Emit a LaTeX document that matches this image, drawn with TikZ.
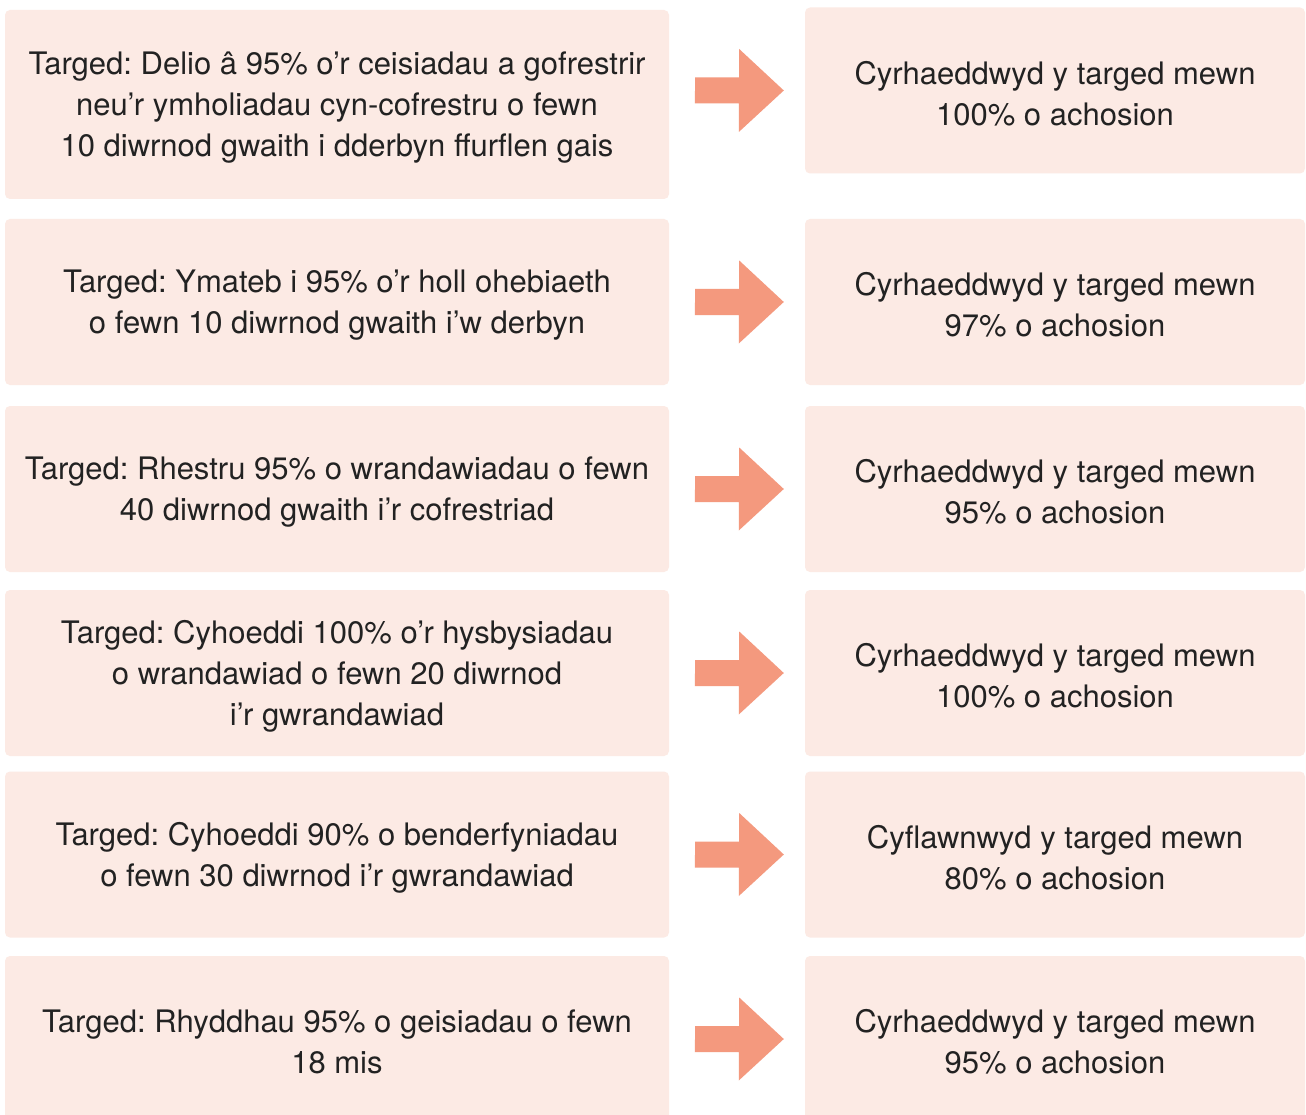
\documentclass[tikz,border=0pt]{standalone}
\usepackage{fontspec}
\setmainfont{TeX Gyre Heros}
\usetikzlibrary{calc}
\frenchspacing

\definecolor{boxpink}{HTML}{FCEAE4}
\definecolor{arrowsalmon}{HTML}{F4997E}
\definecolor{textgray}{HTML}{222222}

\tikzset{
  boxtext/.style={align=center,inner sep=0pt,text=textgray,font=\fontsize{31}{41}\selectfont,yshift=-3pt},
  targetbox/.style={rectangle,rounded corners=5pt,fill=boxpink,inner sep=0pt,
    minimum width=664pt,minimum height=166pt,label={[boxtext]center:#1}},
  resultbox/.style={targetbox=#1,minimum width=500pt},
  blockarrow/.style={fill=arrowsalmon}
}

\begin{document}
\begin{tikzpicture}[x=1pt,y=-1pt]

  \clip (0,0) rectangle (1306,1115);
  \path[fill=white] (0,0) rectangle (1306,1115);

  % targets
  \node [targetbox={Targed: Delio â 95\% o’r ceisiadau a gofrestrir\\neu’r ymholiadau cyn-cofrestru o fewn\\10 diwrnod gwaith i dderbyn ffurflen gais},minimum height=189pt] at (337,104.5) (L1) {};
  \node [targetbox={Targed: Ymateb i 95\% o’r holl ohebiaeth\\o fewn 10 diwrnod gwaith i’w derbyn}] at (337,302) (L2) {};
  \node [targetbox={Targed: Rhestru 95\% o wrandawiadau o fewn\\40 diwrnod gwaith i’r cofrestriad}] at (337,489) (L3) {};
  \node [targetbox={Targed: Cyhoeddi 100\% o’r hysbysiadau\\o wrandawiad o fewn 20 diwrnod\\i’r gwrandawiad}] at (337,673) (L4) {};
  \node [targetbox={Targed: Cyhoeddi 90\% o benderfyniadau\\o fewn 30 diwrnod i’r gwrandawiad}] at (337,854.5) (L5) {};
  \node [targetbox={Targed: Rhyddhau 95\% o geisiadau o fewn\\18 mis}] at (337,1039) (L6) {};

  % results
  \node [resultbox={Cyrhaeddwyd y targed mewn\\100\% o achosion}] at (1055,90.5) (R1) {};
  \node [resultbox={Cyrhaeddwyd y targed mewn\\97\% o achosion}] at (1055,302) (R2) {};
  \node [resultbox={Cyrhaeddwyd y targed mewn\\95\% o achosion}] at (1055,489) (R3) {};
  \node [resultbox={Cyrhaeddwyd y targed mewn\\100\% o achosion}] at (1055,673) (R4) {};
  \node [resultbox={Cyflawnwyd y targed mewn\\80\% o achosion}] at (1055,854.5) (R5) {};
  \node [resultbox={Cyrhaeddwyd y targed mewn\\95\% o achosion}] at (1055,1039) (R6) {};

  % block arrows between the columns
  \foreach \i in {1,...,6}
    \fill [blockarrow] ($(L\i.east |- R\i.west)+(26,-13)$) -- ++(44,0) -- ++(0,-28.5)
      -- ($(R\i.west)+(-21,0)$) -- ++(-45,41.5) -- ++(0,-28.5) -- ++(-44,0) -- cycle;

\end{tikzpicture}
\end{document}
